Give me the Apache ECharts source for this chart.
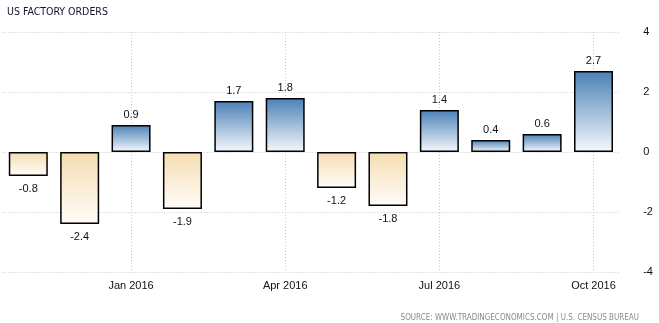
<!DOCTYPE html>
<html><head><meta charset="utf-8">
<script src="https://cdn.jsdelivr.net/npm/echarts@6/dist/echarts.min.js"></script>
<style>html,body{margin:0;padding:0;background:#fff}#c{width:659px;height:323px}</style>
</head><body><div id="c"></div>
<script>
const categories = ['Nov 2015','Dec 2015','Jan 2016','Feb 2016','Mar 2016','Apr 2016','May 2016','Jun 2016','Jul 2016','Aug 2016','Sep 2016','Oct 2016'];
const values = [-0.8, -2.4, 0.9, -1.9, 1.7, 1.8, -1.2, -1.8, 1.4, 0.4, 0.6, 2.7];
const yTicks = [-4, -2, 0, 2, 4];
const titleText = 'US FACTORY ORDERS';
const sourceText = 'SOURCE: WWW.TRADINGECONOMICS.COM | U.S. CENSUS BUREAU';

const FONT = '"Liberation Sans Narrow", "DejaVu Sans Condensed", sans-serif';
const LFONT = '"Liberation Sans", Arial, sans-serif';
const posGrad = {type:'linear',x:0,y:0,x2:0,y2:1,colorStops:[{offset:0,color:'#4b80b6'},{offset:1,color:'#f6f9fc'}]};
const negGrad = {type:'linear',x:0,y:0,x2:0,y2:1,colorStops:[{offset:0,color:'#f5ddb2'},{offset:1,color:'#fffdf9'}]};
const showIdx = i => i % 3 === 2;
const dotted = {color:'#c8c8c8',type:[1,2],width:1};

const chart = echarts.init(document.getElementById('c'), null, {renderer:'canvas'});
chart.setOption({
  animation:false,
  backgroundColor:'#fff',
  title:[
    {text:titleText,left:2,top:2,textStyle:{fontFamily:FONT,fontSize:10.5,fontWeight:'normal',color:'#14142a'}},
    {text:sourceText,right:15,top:309,textStyle:{fontFamily:FONT,fontSize:8,fontWeight:'normal',color:'#8a8a8a'}}
  ],
  grid:{left:2.6,right:39.8,top:32,bottom:51,containLabel:false},
  xAxis:{
    type:'category',data:categories,boundaryGap:true,
    axisLine:{show:false},
    axisTick:{show:true,alignWithLabel:true,interval:(i)=>showIdx(i),length:5,lineStyle:dotted},
    axisLabel:{interval:(i)=>showIdx(i),fontFamily:LFONT,fontSize:11,color:'#111',margin:8},
    splitLine:{show:true,alignWithLabel:true,interval:(i)=>showIdx(i),lineStyle:dotted}
  },
  yAxis:{
    type:'value',position:'right',min:yTicks[0],max:yTicks[yTicks.length-1],interval:2,
    axisLine:{show:false},axisTick:{show:false},
    axisLabel:{fontFamily:LFONT,fontSize:11,color:'#111',margin:24},
    splitLine:{show:true,lineStyle:dotted}
  },
  series:[{
    type:'bar',barWidth:39,z:3,
    data:values.map(v=>({
      value:v,
      itemStyle:{color:v>=0?posGrad:negGrad,borderColor:'#000',borderWidth:1.5},
      label:{show:true,position:v>=0?'top':'bottom',distance:v>=0?5:7}
    })),
    label:{show:true,fontFamily:LFONT,fontSize:11,color:'#111',formatter:p=>p.value.toFixed(1)}
  }]
});
</script></body></html>
